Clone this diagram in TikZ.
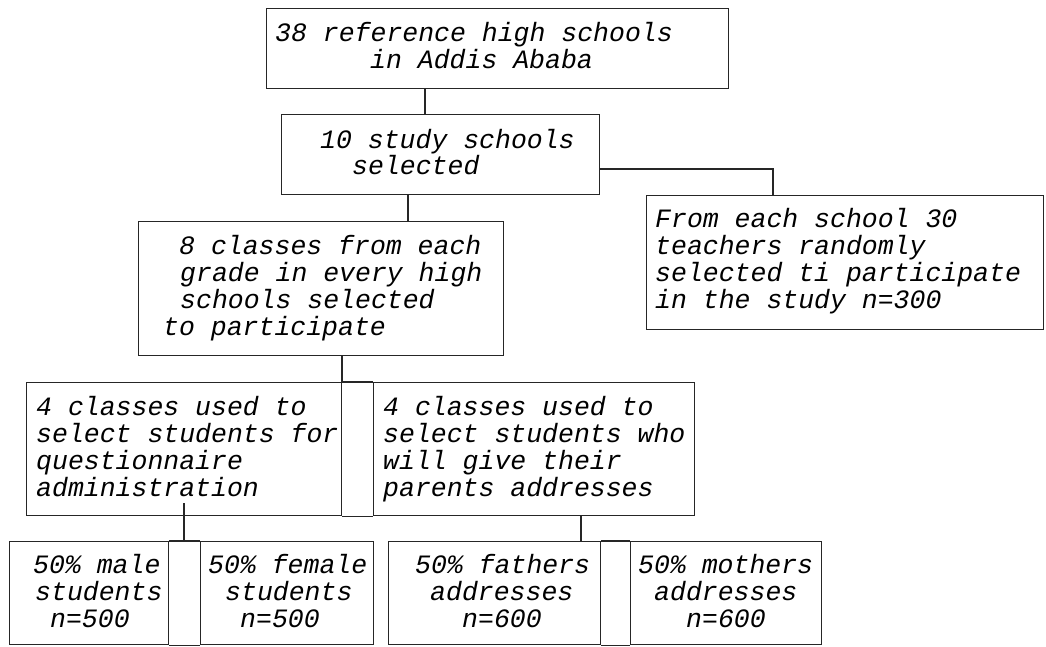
\documentclass[tikz,border=0pt]{standalone}
\usepackage{fontspec}
\setmainfont{Liberation Mono}
\newcommand\flowfont{\fontsize{26.5}{26.7}\selectfont\itshape}
\tikzset{
  box/.style={draw=black!85, line width=1.2pt, inner sep=0pt, anchor=north west},
  txt/.style={font=\flowfont, align=left, inner sep=0pt, anchor=base west},
  link/.style={draw=black!85, line width=1.2pt}
}
\begin{document}
\begin{tikzpicture}[x=1pt, y=-1pt]
\useasboundingbox (0,0) rectangle (1046,646);
\fill[white] (0,0) rectangle (1046,646);
% boxes
\node[box, minimum width=462pt, minimum height=80pt] (b1) at (266,8) {};
\node[box, minimum width=318pt, minimum height=80pt] (b2) at (281,114) {};
\node[box, minimum width=365pt, minimum height=134pt] (b3) at (138,221) {};
\node[box, minimum width=397pt, minimum height=134pt] (b4) at (646,195) {};
\node[box, minimum width=315pt, minimum height=133pt] (q) at (26,382) {};
\node[box, minimum width=321pt, minimum height=133pt] (p) at (373,382) {};
\node[box, minimum width=159pt, minimum height=103pt] (m) at (9,541) {};
\node[box, minimum width=173pt, minimum height=103pt] (f) at (200,541) {};
\node[box, minimum width=212pt, minimum height=103pt] (fa) at (388,541) {};
\node[box, minimum width=191pt, minimum height=103pt] (mo) at (630,541) {};
% gap lines joining paired boxes
\draw[link] (q.north east) -- (p.north west);
\draw[link] (q.south east) -- (p.south west);
\draw[link] (m.north east) -- (f.north west);
\draw[link] (m.south east) -- (f.south west);
\draw[link] (fa.north east) -- (mo.north west);
\draw[link] (fa.south east) -- (mo.south west);
% texts (anchor = baseline of the last line)
\node[txt] (t1) at (275,68.5) {38 reference high schools\\\hspace*{95pt}in Addis Ababa};
\node[txt] (t2) at (320,174.7) {10 study schools\\\hspace*{32pt}selected};
\node[txt] (t3) at (163,335) {\hspace*{16pt}8 classes from each\\\hspace*{17pt}grade in every high\\\hspace*{17pt}schools selected\\to participate};
\node[txt] (t4) at (655,308) {From each school 30\\teachers randomly\\selected ti participate\\in the study n=300};
\node[txt] (tq) at (36,496) {4 classes used to\\select students for\\questionnaire\\administration};
\node[txt] (tp) at (383,496) {4 classes used to\\select students who\\will give their\\parents addresses};
\node[txt] (tm) at (33,627) {50\% male\\\hspace*{2pt}students\\\hspace*{17pt}n=500};
\node[txt] (tf) at (208,627) {50\% female\\\hspace*{17pt}students\\\hspace*{32pt}n=500};
\node[txt] (tfa) at (415,627) {50\% fathers\\\hspace*{15pt}addresses\\\hspace*{47pt}n=600};
\node[txt] (tmo) at (638,627) {50\% mothers\\\hspace*{16pt}addresses\\\hspace*{48pt}n=600};
% connectors
\coordinate (c1) at (425,88);
\draw[link] (c1) -- (c1 |- b2.north);
\coordinate (c2) at (408,194);
\draw[link] (c2) -- (c2 |- b3.north);
\coordinate (c3) at (599,169);
\coordinate (c3b) at (773,169);
\draw[link] (c3) -- (c3b) -- (c3b |- b4.north);
\coordinate (c4) at (342,355);
\draw[link] (c4) -- (c4 |- q.north);
\coordinate (c5) at (184,503);
\draw[link] (c5) -- (c5 |- m.north);
\coordinate (c6) at (581,515);
\draw[link] (c6) -- (c6 |- fa.north);
\end{tikzpicture}
\end{document}
